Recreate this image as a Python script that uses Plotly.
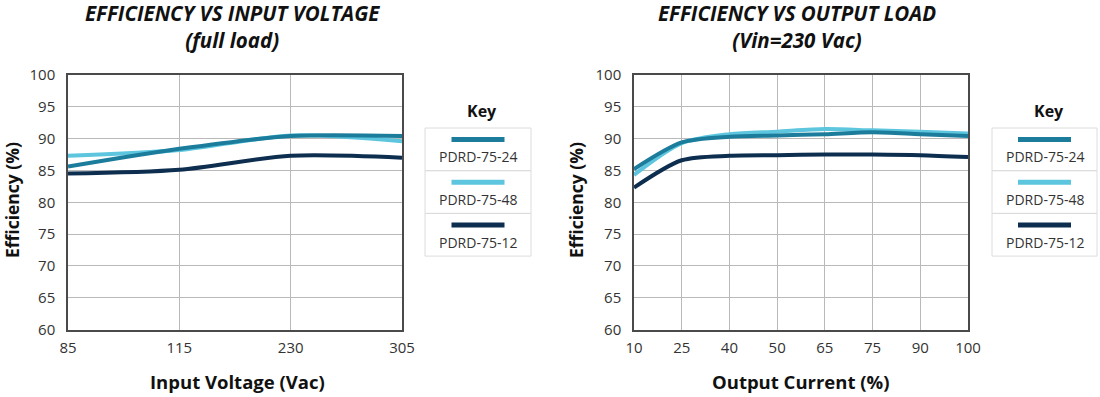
import plotly.graph_objects as go

# ---------------- data ----------------
series_names = ["PDRD-75-24", "PDRD-75-48", "PDRD-75-12"]
series_colors = ["#1b7c9c", "#5dc6de", "#0d2e4f"]

# Left chart: efficiency vs input voltage (full load)
vin_labels = ["85", "115", "230", "305"]
vin_eff_24 = [85.6, 88.4, 90.4, 90.4]
vin_eff_48 = [87.3, 88.2, 90.5, 89.6]
vin_eff_12 = [84.5, 85.1, 87.3, 87.0]

# Right chart: efficiency vs output load (Vin = 230 Vac)
load_labels = ["10", "25", "40", "50", "65", "75", "90", "100"]
load_eff_24 = [85.2, 89.4, 90.3, 90.5, 90.7, 91.0, 90.7, 90.4]
load_eff_48 = [84.3, 89.3, 90.7, 91.1, 91.5, 91.3, 91.1, 90.8]
load_eff_12 = [82.3, 86.6, 87.3, 87.4, 87.5, 87.5, 87.4, 87.1]

y_ticks = [60, 65, 70, 75, 80, 85, 90, 95, 100]

titles = ["<b><i>EFFICIENCY VS INPUT VOLTAGE</i></b><br><b><i>(full load)</i></b>",
          "<b><i>EFFICIENCY VS OUTPUT LOAD</i></b><br><b><i>(Vin=230 Vac)</i></b>"]
x_titles = ["Input Voltage (Vac)", "Output Current (%)"]
y_title = "Efficiency (%)"
legend_title = "Key"

# ---------------- layout geometry ----------------
W, H = 1100, 397
def px(x):
    return x / W
def py(y):
    return 1 - y / H

left_dom = [px(68), px(402)]
right_dom = [px(634), px(968)]
y_dom = [py(329.5), py(75)]

FONT = "Open Sans"
TXT = "#333333"

fig = go.Figure()

left_sets = [vin_eff_24, vin_eff_48, vin_eff_12]
right_sets = [load_eff_24, load_eff_48, load_eff_12]
draw_order = [1, 0, 2]

for i in draw_order:
    fig.add_trace(go.Scatter(x=vin_labels, y=left_sets[i], mode="lines",
                             line=dict(color=series_colors[i], width=4, shape="spline", smoothing=0.8),
                             name=series_names[i], showlegend=False, xaxis="x", yaxis="y"))
for i in draw_order:
    fig.add_trace(go.Scatter(x=load_labels, y=right_sets[i], mode="lines",
                             line=dict(color=series_colors[i], width=4, shape="spline", smoothing=0.8),
                             name=series_names[i], showlegend=False, xaxis="x2", yaxis="y2"))

axis_common = dict(showline=True, mirror=True, linecolor="#4a4a4a", linewidth=1.5,
                   showgrid=True, gridcolor="#b9b9b9", gridwidth=1.3,
                   tickfont=dict(family=FONT, size=15, color=TXT), ticks="", zeroline=False,
                   fixedrange=True, automargin=False)

fig.update_layout(
    width=W, height=H,
    margin=dict(l=0, r=0, t=0, b=0, autoexpand=False),
    paper_bgcolor="white", plot_bgcolor="white",
    showlegend=False,
    xaxis=dict(domain=left_dom, type="category", categoryarray=vin_labels,
               range=[0, len(vin_labels) - 1], anchor="y", ticklabelstandoff=4, **axis_common),
    yaxis=dict(domain=y_dom, range=[60, 100], tickvals=y_ticks, anchor="x", ticklabelstandoff=8, **axis_common),
    xaxis2=dict(domain=right_dom, type="category", categoryarray=load_labels,
                range=[0, len(load_labels) - 1], anchor="y2", ticklabelstandoff=4, **axis_common),
    yaxis2=dict(domain=y_dom, range=[60, 100], tickvals=y_ticks, anchor="x2", ticklabelstandoff=8, **axis_common),
)

annotations = []
shapes = []

# titles
for cx, t in zip([232, 797], titles):
    annotations.append(dict(x=px(cx), y=py(26), xref="paper", yref="paper", text=t,
                            showarrow=False, xanchor="center", yanchor="middle",
                            font=dict(family=FONT, size=20.5, color="#111111", weight=800), align="center"))
# x axis titles
for cx, t in zip([237, 801], x_titles):
    annotations.append(dict(x=px(cx), y=py(381), xref="paper", yref="paper", text="<b>" + t + "</b>",
                            showarrow=False, xanchor="center", yanchor="middle",
                            font=dict(family=FONT, size=18.5, color="#111111")))
# y axis titles
for cx in [12, 576]:
    annotations.append(dict(x=px(cx), y=py(200), xref="paper", yref="paper", text="<b>" + y_title + "</b>",
                            showarrow=False, xanchor="center", yanchor="middle", textangle=-90,
                            font=dict(family=FONT, size=17.5, color="#111111")))

# custom boxed legends ("Key")
for bx0, bx1 in [(425, 531), (992, 1097)]:
    cx = (bx0 + bx1) / 2
    annotations.append(dict(x=px(cx + 4), y=py(111), xref="paper", yref="paper",
                            text="<b>" + legend_title + "</b>", showarrow=False,
                            xanchor="center", yanchor="middle",
                            font=dict(family=FONT, size=16, color="#111111")))
    top = 128
    row_h = 42.7
    for k, name in enumerate(series_names):
        y0 = top + k * row_h
        shapes.append(dict(type="rect", xref="paper", yref="paper",
                           x0=px(bx0), x1=px(bx1), y0=py(y0), y1=py(y0 + row_h),
                           line=dict(color="#dcdcdc", width=1), fillcolor="rgba(0,0,0,0)"))
        shapes.append(dict(type="line", xref="paper", yref="paper",
                           x0=px(cx - 26.5), x1=px(cx + 26.5), y0=py(y0 + 11.5), y1=py(y0 + 11.5),
                           line=dict(color=series_colors[k], width=5)))
        annotations.append(dict(x=px(cx), y=py(y0 + 29), xref="paper", yref="paper",
                                text=name, showarrow=False, xanchor="center", yanchor="middle",
                                font=dict(family=FONT, size=14, color=TXT)))

fig.update_layout(annotations=annotations, shapes=shapes)

fig.write_html("out.html", config={"displayModeBar": False},
               post_script="document.body.style.margin='0px';document.body.style.overflow='hidden';")
